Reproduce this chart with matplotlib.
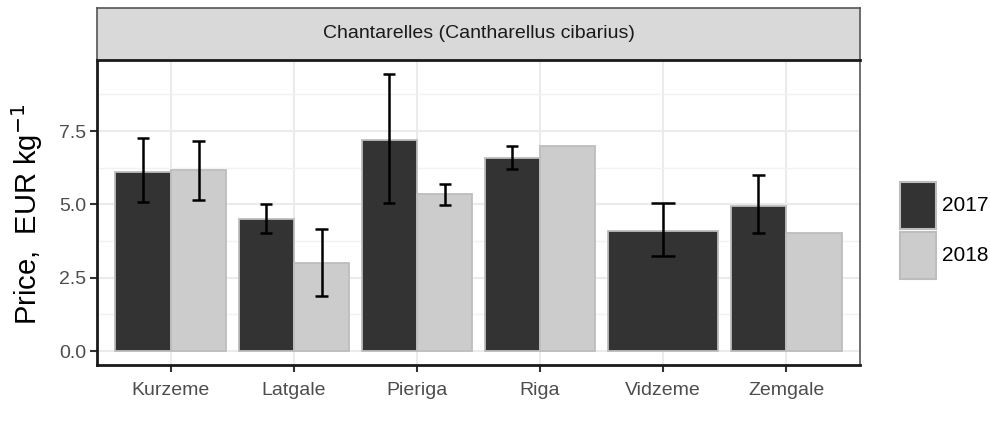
import numpy as np
import matplotlib
matplotlib.use('Agg')
import matplotlib.pyplot as plt
from matplotlib.patches import Rectangle

plt.rcParams['font.family'] = ['Liberation Sans', 'DejaVu Sans']

# Data
regions = ['Kurzeme', 'Latgale', 'Pieriga', 'Riga', 'Vidzeme', 'Zemgale']
years = ['2017', '2018']
price_2017 = [6.11, 4.49, 7.21, 6.57, 4.11, 4.94]
low_2017 = [5.07, 4.02, 5.06, 6.21, 3.25, 4.02]
high_2017 = [7.27, 5.01, 9.45, 7.00, 5.06, 6.00]
price_2018 = [6.19, 3.02, 5.35, 7.00, np.nan, 4.02]
low_2018 = [5.15, 1.87, 4.99, np.nan, np.nan, np.nan]
high_2018 = [7.16, 4.15, 5.68, np.nan, np.nan, np.nan]

colors = {'2017': '#333333', '2018': '#CCCCCC'}
edge = '#BDBDBD'
dodge = 0.9

fig = plt.figure(figsize=(9.9, 4.26), dpi=100)
ax = fig.add_axes([97 / 990, 61 / 426, 763 / 990, 305 / 426])

series = {
    '2017': (price_2017, low_2017, high_2017),
    '2018': (price_2018, low_2018, high_2018),
}

for i, reg in enumerate(regions):
    present = [y for y in years if not np.isnan(series[y][0][i])]
    n = len(present)
    w = dodge / n
    for k, y in enumerate(present):
        val, lo, hi = series[y][0][i], series[y][1][i], series[y][2][i]
        xc = i + 1 - dodge / 2 + w * (k + 0.5)
        ax.bar(xc, val, width=w, color=colors[y], edgecolor=edge, linewidth=1.3, zorder=2)
        if not np.isnan(lo):
            cap = 0.2 / n
            ax.vlines(xc, lo, hi, color='black', linewidth=1.8, zorder=3)
            ax.hlines([lo, hi], xc - cap / 2, xc + cap / 2, color='black', linewidth=1.8, zorder=3)

top = np.nanmax(high_2017 + high_2018)
pad = 0.05 * top
ax.set_ylim(-pad, top + pad)
ax.set_xlim(0.4, len(regions) + 0.6)
ax.set_xticks(range(1, len(regions) + 1))
ax.set_xticklabels(regions, fontsize=14, color='#4D4D4D')
ax.set_yticks([0, 2.5, 5, 7.5])
ax.set_yticklabels(['0.0', '2.5', '5.0', '7.5'], fontsize=14, color='#4D4D4D')
ax.set_yticks([1.25, 3.75, 6.25, 8.75], minor=True)
ax.set_xticks([], minor=True)
ax.grid(which='major', color='#EBEBEB', linewidth=1.5, zorder=0)
ax.grid(which='minor', axis='y', color='#F2F2F2', linewidth=1.0, zorder=0)
ax.set_axisbelow(True)
ax.tick_params(which='major', length=5, width=1.5, color='#333333')
ax.tick_params(axis='x', pad=7)
ax.tick_params(axis='y', pad=3)
ax.tick_params(which='minor', length=0)
for s in ['left', 'bottom']:
    ax.spines[s].set_color('#1A1A1A')
    ax.spines[s].set_linewidth(2)
for s in ['right', 'top']:
    ax.spines[s].set_color('#555555')
    ax.spines[s].set_linewidth(1.2)

# facet strip
strip = fig.add_axes([97 / 990, 366 / 426, 763 / 990, 52 / 426])
strip.set_facecolor('#D9D9D9')
strip.set_xticks([])
strip.set_yticks([])
for s in strip.spines.values():
    s.set_color('#555555')
    s.set_linewidth(1.2)
strip.spines['bottom'].set_color('#1A1A1A')
strip.spines['bottom'].set_linewidth(2)
strip.text(0.5, 0.5, 'Chantarelles (Cantharellus cibarius)', ha='center', va='center',
           fontsize=14, color='#1A1A1A', transform=strip.transAxes)

fig.text(27 / 990, 0.497, 'Price,  EUR kg$^{-1}$', rotation=90, ha='center', va='center',
         fontsize=21, color='black')

# legend drawn by hand so the keys keep the tall ggplot shape
key_x, key_w, key_h = 900 / 990, 36 / 990, 47 / 426
key_tops = [182, 232]
for y, t in zip(years, key_tops):
    y0 = (426 - t) / 426 - key_h
    fig.add_artist(Rectangle((key_x, y0), key_w, key_h, transform=fig.transFigure,
                             facecolor=colors[y], edgecolor=edge, linewidth=1.5))
    fig.text(942 / 990, y0 + key_h / 2, y, ha='left', va='center', fontsize=15, color='black')

fig.savefig('out.png', dpi=100)
